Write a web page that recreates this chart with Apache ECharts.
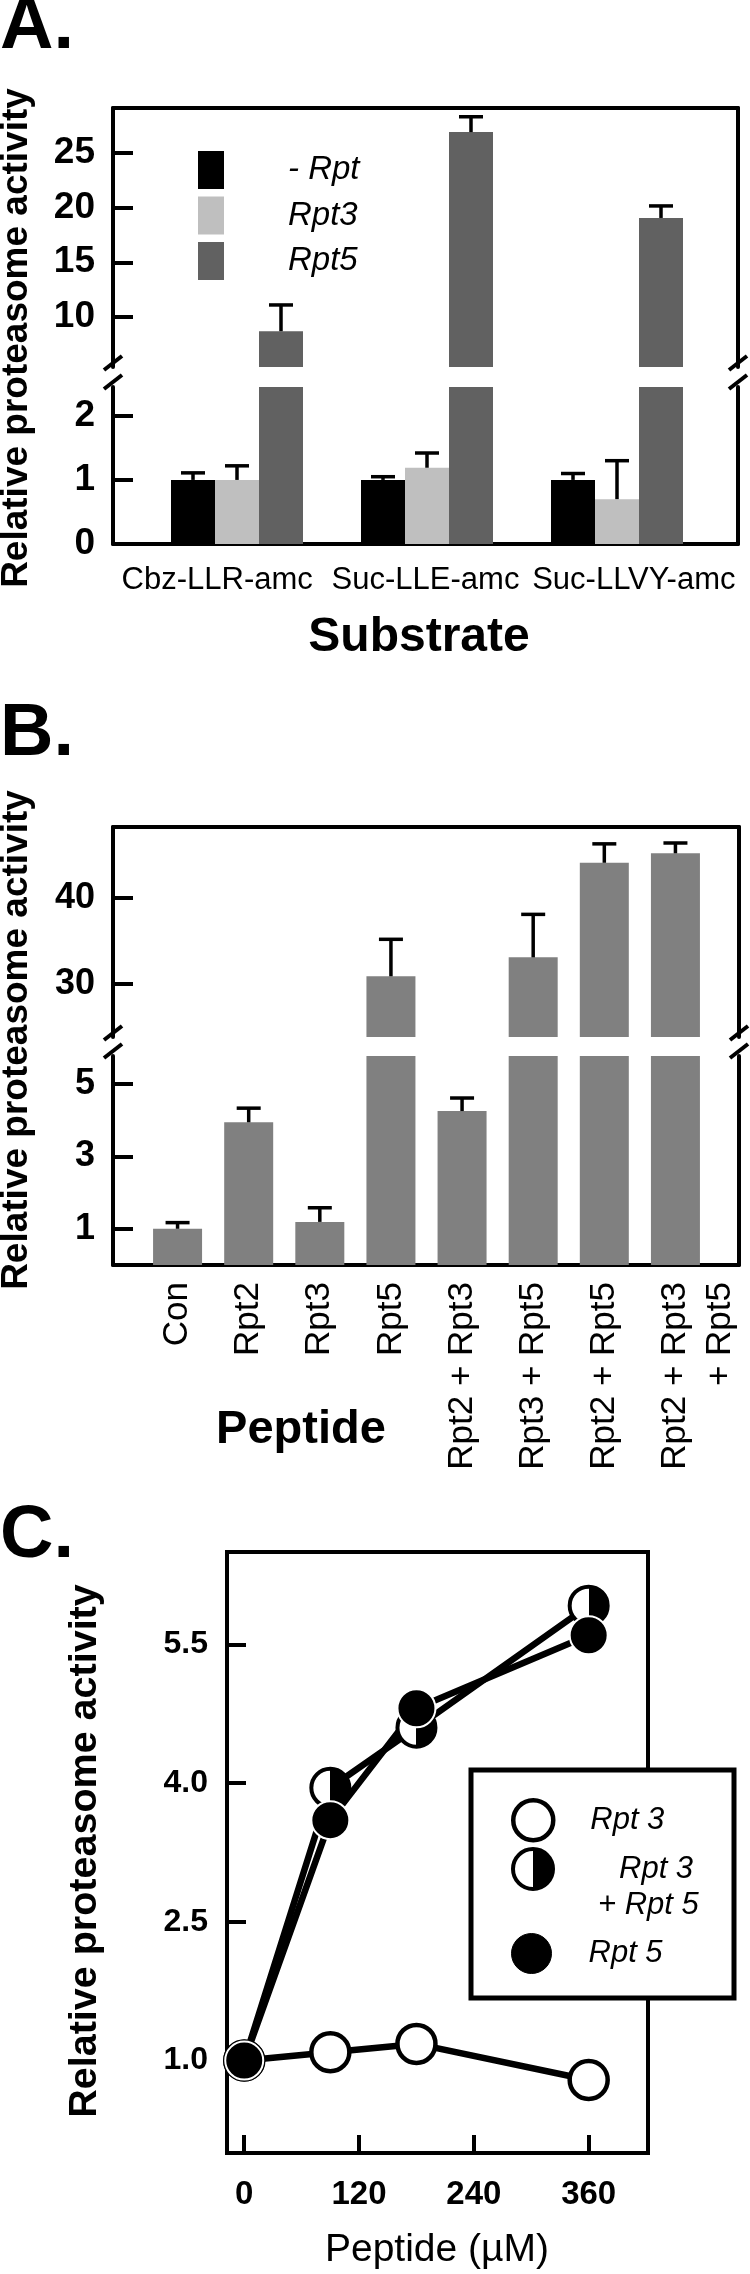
<!DOCTYPE html>
<html>
<head>
<meta charset="utf-8">
<script src="https://cdn.jsdelivr.net/npm/echarts@6/dist/echarts.min.js"></script>
<style>
  html, body { margin: 0; padding: 0; background: #fff; }
  #chart { width: 750px; height: 2274px; }
</style>
</head>
<body>
<div id="chart"></div>
<script>
const FONT = 'Liberation Sans'
const BLACK = '#000'

// A. activity per substrate
const substrates = ['Cbz-LLR-amc', 'Suc-LLE-amc', 'Suc-LLVY-amc']
const noRpt = [1.0, 1.0, 1.0]
const noRptErr = [0.11, 0.05, 0.1]
const rpt3 = [1.0, 1.19, 0.7]
const rpt3Err = [0.22, 0.23, 0.6]
const rpt5 = [8.7, 26.9, 19.05]
const rpt5Err = [2.4, 1.4, 1.1]
const ticksAUpper = [10, 15, 20, 25]
const ticksALower = [0, 1, 2]

// B. activity per peptide
const peptides = ['Con', 'Rpt2', 'Rpt3', 'Rpt5', 'Rpt2 + Rpt3', 'Rpt3 + Rpt5', 'Rpt2 + Rpt5', 'Rpt2 + Rpt3\n+ Rpt5']
const activityB = [1.0, 3.94, 1.19, 30.9, 4.25, 33.1, 44.1, 45.2]
const errB = [0.17, 0.39, 0.39, 4.3, 0.36, 5.0, 2.2, 1.2]
const ticksBUpper = [30, 40]
const ticksBLower = [1, 3, 5]

// C. dose response
const doses = [0, 90, 180, 360]
const rpt3Dose = [1.0, 1.09, 1.18, 0.79]
const rpt35Dose = [1.0, 3.95, 4.6, 5.92]
const rpt5Dose = [1.0, 3.6, 4.81, 5.6]
const ticksCX = [0, 120, 240, 360]
const ticksCY = [1.0, 2.5, 4.0, 5.5]

const grids = []
const xAxes = []
const yAxes = []
const series = []
const graphics = []

const line = { show: true, onZero: false, lineStyle: { color: BLACK, width: 4 } }
const off = { show: false }

function addGrid(left, right, top, bottom, extra) {
  grids.push(Object.assign({
    left: left, top: top, width: right - left, height: bottom - top,
    containLabel: false, outerBoundsMode: 'none',
  }, extra))
  return grids.length - 1
}
function addX(opt) { xAxes.push(opt); return xAxes.length - 1 }
function addY(opt) { yAxes.push(opt); return yAxes.length - 1 }

function tickOpt(values, len) {
  return { show: true, inside: true, length: len, customValues: values, lineStyle: { color: BLACK, width: 4 } }
}
function labelOpt(values, size, margin, extra) {
  return Object.assign({
    show: true, customValues: values, margin: margin, color: BLACK,
    fontFamily: FONT, fontWeight: 'bold', fontSize: size,
  }, extra)
}

function breakMark(x, y) {
  graphics.push({
    type: 'line', z: 5,
    shape: { x1: x - 9, y1: y + 7, x2: x + 9, y2: y - 7 },
    style: { stroke: BLACK, lineWidth: 4 },
  })
}

// panel with a broken y axis: two frame grids + two data grids
function brokenPanel(p) {
  const fu = addGrid(p.frame[0], p.frame[1], p.upper[0], p.upper[1])
  const fl = addGrid(p.frame[0], p.frame[1], p.lower[0], p.lower[1])
  const du = addGrid(p.data[0], p.data[1], p.upper[0], p.upper[1])
  const dl = addGrid(p.data[0], p.data[1], p.lower[0], p.lower[1])

  addX({ gridIndex: fu, type: 'value', position: 'top', min: 0, max: 1, axisLine: line, axisTick: off, axisLabel: off, splitLine: off })
  if (p.labelOnFrame) {
    addX({ gridIndex: fl, type: 'category', position: 'bottom', data: p.cats, axisLine: line, axisTick: off, axisLabel: p.catLabel, splitLine: off })
  } else {
    addX({ gridIndex: fl, type: 'value', position: 'bottom', min: 0, max: 1, axisLine: line, axisTick: off, axisLabel: off, splitLine: off })
  }
  addY({ gridIndex: fu, type: 'value', position: 'left', min: p.upRange[0], max: p.upRange[1], axisLine: line,
    axisTick: tickOpt(p.upTicks, 20), axisLabel: labelOpt(p.upTicks, p.tickSize, 18), splitLine: off })
  addY({ gridIndex: fu, type: 'value', position: 'right', min: p.upRange[0], max: p.upRange[1], axisLine: line, axisTick: off, axisLabel: off, splitLine: off })
  addY({ gridIndex: fl, type: 'value', position: 'left', min: p.lowRange[0], max: p.lowRange[1], axisLine: line,
    axisTick: tickOpt(p.lowTicks, 20), axisLabel: labelOpt(p.lowLabels, p.tickSize, 18), splitLine: off })
  addY({ gridIndex: fl, type: 'value', position: 'right', min: p.lowRange[0], max: p.lowRange[1], axisLine: line, axisTick: off, axisLabel: off, splitLine: off })

  const xu = addX({ gridIndex: du, type: 'category', data: p.cats, axisLine: off, axisTick: off, axisLabel: off, splitLine: off })
  const xl = addX({ gridIndex: dl, type: 'category', data: p.cats, axisLine: off, axisTick: off,
    axisLabel: p.labelOnFrame ? off : p.catLabel, splitLine: off })
  const yu = addY({ gridIndex: du, type: 'value', min: p.upRange[0], max: p.upRange[1], show: false })
  const yl = addY({ gridIndex: dl, type: 'value', min: p.lowRange[0], max: p.lowRange[1], show: false })

  p.frame.forEach((x) => {
    breakMark(x, p.upper[1] - 4)
    breakMark(x, p.lower[0] - 5)
  })
  return { xu: xu, yu: yu, xl: xl, yl: yl, upRange: p.upRange, lowRange: p.lowRange }
}

function bars(name, xi, yi, vals, color, width, range) {
  series.push({
    name: name, type: 'bar', xAxisIndex: xi, yAxisIndex: yi,
    data: vals.map((v) => (v >= range[0] ? v : '-')),
    barWidth: width, barGap: '0%', clip: true,
    itemStyle: { color: color },
  })
}

function errorBars(xi, yi, vals, errs, offset, range) {
  const data = []
  vals.forEach((v, i) => {
    if (v >= range[0] && v <= range[1]) data.push([i, v, errs[i]])
  })
  series.push({
    type: 'custom', xAxisIndex: xi, yAxisIndex: yi, clip: true, z: 3,
    encode: { x: 0, y: 1 },
    data: data,
    renderItem: (params, api) => {
      const v = api.value(1)
      const base = api.coord([api.value(0), v])
      const top = api.coord([api.value(0), v + api.value(2)])
      const x = base[0] + offset
      const st = { stroke: BLACK, lineWidth: 3.5 }
      return {
        type: 'group',
        children: [
          { type: 'line', shape: { x1: x, y1: base[1], x2: x, y2: top[1] }, style: st },
          { type: 'line', shape: { x1: x - 12, y1: top[1], x2: x + 12, y2: top[1] }, style: st },
        ],
      }
    },
  })
}

function text(x, y, str, size, weight, extra) {
  graphics.push(Object.assign({
    type: 'text', x: x, y: y, z: 5,
    style: { text: str, fill: BLACK, fontFamily: FONT, fontSize: size, fontWeight: weight, align: 'center', verticalAlign: 'middle' },
  }, extra))
}
function letter(y, str) {
  graphics.push({
    type: 'text', x: 0, y: y, z: 5,
    style: { text: str, fill: BLACK, fontFamily: FONT, fontSize: 74, fontWeight: 'bold', align: 'left', verticalAlign: 'middle' },
  })
}

// ---------- panel A
const A = brokenPanel({
  frame: [113, 738], data: [142, 712], upper: [108, 367], lower: [387, 544],
  upRange: [5.43, 29.1], lowRange: [0, 2.45],
  upTicks: ticksAUpper, lowTicks: [1, 2], lowLabels: ticksALower, tickSize: 37,
  cats: substrates, labelOnFrame: true,
  catLabel: { show: true, interval: 0, margin: 21, color: BLACK, fontFamily: FONT, fontSize: 31 },
})
const groupsA = [
  ['- Rpt', noRpt, noRptErr, '#000000'],
  ['Rpt3', rpt3, rpt3Err, '#bfbfbf'],
  ['Rpt5', rpt5, rpt5Err, '#616161'],
]
groupsA.forEach(([name, vals, errs, color], k) => {
  const offset = (k - 1) * 44
  bars(name, A.xu, A.yu, vals, color, 44, A.upRange)
  bars(name, A.xl, A.yl, vals, color, 44, A.lowRange)
  errorBars(A.xu, A.yu, vals, errs, offset, A.upRange)
  errorBars(A.xl, A.yl, vals, errs, offset, A.lowRange)
})

// ---------- panel B
const B = brokenPanel({
  frame: [113, 739], data: [142, 711], upper: [827, 1037], lower: [1056, 1265],
  upRange: [23.84, 48.26], lowRange: [0, 5.77],
  upTicks: ticksBUpper, lowTicks: ticksBLower, lowLabels: ticksBLower, tickSize: 36,
  cats: peptides, labelOnFrame: false,
  catLabel: {
    show: true, interval: 0, rotate: 90, margin: 17, color: BLACK, fontFamily: FONT, fontSize: 35, lineHeight: 45,
    formatter: (v) => (v.indexOf('\n') >= 0 ? '\n' + v : v),
  },
})
bars('activity', B.xu, B.yu, activityB, '#808080', 49, B.upRange)
bars('activity', B.xl, B.yl, activityB, '#808080', 49, B.lowRange)
errorBars(B.xu, B.yu, activityB, errB, 0, B.upRange)
errorBars(B.xl, B.yl, activityB, errB, 0, B.lowRange)

// ---------- panel C
const gC = addGrid(227, 648, 1552, 2153, { show: true, borderColor: BLACK, borderWidth: 4, backgroundColor: 'transparent' })
const cx = addX({ gridIndex: gC, type: 'value', min: -18, max: 422, axisLine: line,
  axisTick: tickOpt(ticksCX, 18), axisLabel: labelOpt(ticksCX, 33, 25), splitLine: off })
const cy = addY({ gridIndex: gC, type: 'value', min: 0, max: 6.5, axisLine: line,
  axisTick: tickOpt(ticksCY, 19), axisLabel: labelOpt(ticksCY, 32, 19, { formatter: (v) => v.toFixed(1) }), splitLine: off })

const halfFill = new echarts.graphic.LinearGradient(0, 0, 1, 0, [
  { offset: 0, color: '#fff' }, { offset: 0.5, color: '#fff' },
  { offset: 0.5, color: '#000' }, { offset: 1, color: '#000' },
])
const styleOpen = { color: '#fff', borderColor: BLACK, borderWidth: 4.5 }
const styleHalf = { color: halfFill, borderColor: BLACK, borderWidth: 4 }
const styleFull = { color: '#000', borderColor: '#fff', borderWidth: 2 }

function doseSeries(name, vals, itemStyle) {
  series.push({
    name: name, type: 'line', xAxisIndex: cx, yAxisIndex: cy,
    data: doses.map((d, i) => [d, vals[i]]),
    symbol: 'circle', symbolSize: 38, showSymbol: true, clip: false,
    lineStyle: { color: BLACK, width: 6.5 },
    itemStyle: itemStyle,
  })
}
doseSeries('Rpt 3', rpt3Dose, styleOpen)
doseSeries('Rpt 3 + Rpt 5', rpt35Dose, styleHalf)
doseSeries('Rpt 5', rpt5Dose, styleFull)

// legend frame for C
graphics.push({
  type: 'rect', z: 3,
  shape: { x: 471, y: 1770, width: 263, height: 228 },
  style: { fill: '#fff', stroke: BLACK, lineWidth: 5 },
})
// second line of the "Rpt 3 + Rpt 5" legend entry
graphics.push({
  type: 'text', x: 598, y: 1905, z: 5,
  style: { text: '+ Rpt 5', fill: BLACK, fontFamily: FONT, fontSize: 31, fontStyle: 'italic', align: 'left', verticalAlign: 'middle' },
})

// titles and panel letters
letter(28, 'A.')
letter(735, 'B.')
letter(1537, 'C.')
text(17, 338, 'Relative proteasome activity', 37, 'bold', { rotation: Math.PI / 2 })
text(17, 1040, 'Relative proteasome activity', 37, 'bold', { rotation: Math.PI / 2 })
text(85, 1851, 'Relative proteasome activity', 39.5, 'bold', { rotation: Math.PI / 2 })
text(419, 638, 'Substrate', 48, 'bold')
text(301, 1430, 'Peptide', 47, 'bold')
text(437, 2250, 'Peptide (µM)', 39, 'normal')

const legendText = { color: BLACK, fontFamily: FONT, fontStyle: 'italic' }
const legends = [
  {
    data: ['- Rpt', 'Rpt3', 'Rpt5'], left: 198, top: 151, orient: 'vertical', icon: 'rect',
    itemWidth: 26, itemHeight: 38, itemGap: 7.5, padding: 0, selectedMode: false,
    textStyle: Object.assign({ fontSize: 33, padding: [0, 0, 0, 59] }, legendText),
  },
  {
    data: [{ name: 'Rpt 3', icon: 'circle', itemStyle: styleOpen }], left: 511, top: 1798,
    itemWidth: 40, itemHeight: 40, padding: 0, selectedMode: false,
    textStyle: Object.assign({ fontSize: 31, padding: [0, 0, 0, 32] }, legendText),
  },
  {
    data: [{ name: 'Rpt 3 + Rpt 5', icon: 'circle', itemStyle: { color: halfFill, borderColor: BLACK, borderWidth: 4 } }], left: 511, top: 1847,
    itemWidth: 40, itemHeight: 40, padding: 0, selectedMode: false,
    formatter: () => 'Rpt 3',
    textStyle: Object.assign({ fontSize: 31, padding: [0, 0, 0, 61] }, legendText),
  },
  {
    data: [{ name: 'Rpt 5', icon: 'circle', itemStyle: { color: '#000', borderColor: BLACK, borderWidth: 1 } }], left: 511, top: 1933,
    itemWidth: 40, itemHeight: 40, padding: 0, selectedMode: false,
    textStyle: Object.assign({ fontSize: 31, padding: [0, 0, 0, 32] }, legendText),
  },
]

const myChart = echarts.init(document.getElementById('chart'), null, { renderer: 'canvas' })
myChart.setOption({
  animation: false,
  backgroundColor: '#fff',
  grid: grids,
  xAxis: xAxes,
  yAxis: yAxes,
  legend: legends,
  graphic: { elements: graphics },
  series: series,
})
</script>
</body>
</html>
